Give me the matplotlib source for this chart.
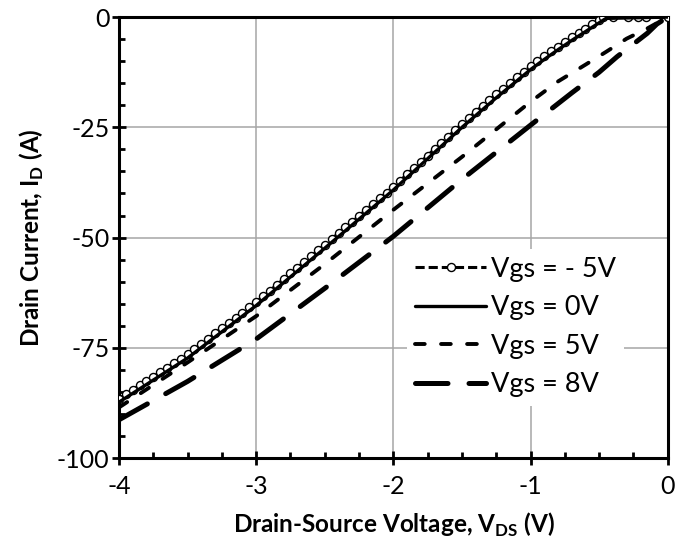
import matplotlib
matplotlib.use('Agg')
import matplotlib.pyplot as plt
from matplotlib.ticker import MultipleLocator

plt.rcParams['font.family'] = ['Lato', 'DejaVu Sans']
plt.rcParams['mathtext.fontset'] = 'custom'
plt.rcParams['mathtext.rm'] = 'Lato'
plt.rcParams['mathtext.bf'] = 'Lato:bold'
plt.rcParams['axes.unicode_minus'] = False

# Vgs = -5V (dense measured points, open circles)
vds_m5 = [-4.00, -3.95, -3.90, -3.85, -3.80, -3.75, -3.70, -3.65, -3.60, -3.55,
          -3.50, -3.45, -3.40, -3.35, -3.30, -3.25, -3.20, -3.15, -3.10, -3.05,
          -3.00, -2.95, -2.90, -2.85, -2.80, -2.75, -2.70, -2.65, -2.60, -2.55,
          -2.50, -2.45, -2.40, -2.35, -2.30, -2.25, -2.20, -2.15, -2.10, -2.05,
          -2.00, -1.95, -1.90, -1.85, -1.80, -1.75, -1.70, -1.65, -1.60, -1.55,
          -1.50, -1.45, -1.40, -1.35, -1.30, -1.25, -1.20, -1.15, -1.10, -1.05,
          -1.00, -0.95, -0.90, -0.85, -0.80, -0.75, -0.70, -0.65, -0.60, -0.55,
          -0.50, -0.475, -0.40, -0.29, -0.22, -0.155, 0.0]
id_m5 = [-86.5, -85.5, -84.5, -83.5, -82.5, -81.5, -80.5, -79.5, -78.5, -77.5,
         -76.5, -75.3, -74.1, -72.9, -71.7, -70.5, -69.4, -68.2, -67.0, -65.8,
         -64.6, -63.3, -62.0, -60.7, -59.4, -58.1, -56.8, -55.5, -54.2, -52.9,
         -51.6, -50.3, -49.0, -47.7, -46.4, -45.1, -43.7, -42.4, -41.1, -39.8,
         -38.5, -37.1, -35.6, -34.2, -32.8, -31.4, -29.9, -28.5, -27.1, -25.6,
         -24.2, -22.8, -21.5, -20.1, -18.8, -17.5, -16.2, -14.9, -13.6, -12.4,
         -11.2, -10.0, -8.9, -7.8, -6.7, -5.6, -4.6, -3.6, -2.6, -1.6,
         -0.7, 0.0, 0.0, 0.0, 0.0, 0.0, 0.0]

# Vgs = 0V
vds_0 = [-4.0, -3.5, -3.0, -2.5, -2.0, -1.5, -1.25, -1.0, -0.9, -0.8, -0.7, -0.6,
         -0.5, -0.45, 0.0]
id_0 = [-87.3, -77.3, -65.4, -52.4, -39.2, -25.0, -18.3, -11.9, -9.6, -7.4, -5.3,
        -3.3, -1.3, -0.3, 0.0]

# Vgs = 5V
vds_5 = [-4.0, -3.5, -3.0, -2.5, -2.0, -1.5, -1.0, -0.8, -0.6, -0.45, -0.3, -0.15, 0.0]
id_5 = [-88.5, -78.3, -67.8, -56.0, -43.7, -31.7, -19.2, -14.6, -10.8, -7.9, -4.9, -2.6, 0.0]

# Vgs = 8V
vds_8 = [-4.0, -3.5, -3.0, -2.5, -2.0, -1.5, -1.0, -0.7, -0.5, -0.37, -0.15, -0.08, 0.0]
id_8 = [-91.3, -82.6, -73.0, -61.5, -49.7, -36.8, -24.5, -17.2, -12.5, -9.0, -3.7, -1.6, 0.0]

fig = plt.figure(figsize=(6.8, 5.5), dpi=100)
ax = fig.add_axes([0.175, 0.167, 0.807, 0.802])

ax.plot(vds_m5, id_m5, color='black', lw=2.2, linestyle=(0, (3, 1.3)),
        marker='o', markersize=5.8, markerfacecolor='white', markeredgecolor='black',
        markeredgewidth=1.0, label='Vgs = - 5V', zorder=3)
ax.plot(vds_0, id_0, color='black', lw=2.4, solid_capstyle='round',
        label='Vgs = 0V', zorder=4)
ax.plot(vds_5, id_5, color='black', lw=2.8, linestyle=(0, (2.5, 4.2)),
        dash_capstyle='round', label='Vgs = 5V', zorder=4)
ax.plot(vds_8, id_8, color='black', lw=3.6, linestyle=(0, (6.5, 4.2)),
        dash_capstyle='round', label='Vgs = 8V', zorder=4)

ax.set_xlim(-4, 0)
ax.set_ylim(-100, 0)
ax.xaxis.set_major_locator(MultipleLocator(1))
ax.xaxis.set_minor_locator(MultipleLocator(0.25))
ax.yaxis.set_major_locator(MultipleLocator(25))
ax.yaxis.set_minor_locator(MultipleLocator(5))
ax.grid(True, which='major', color='#a6a6a6', lw=1.1)
ax.set_axisbelow(True)

for s in ax.spines.values():
    s.set_linewidth(2.2)
ax.tick_params(which='major', direction='inout', length=10, width=2,
               labelsize=18)
ax.tick_params(axis='x', which='major', pad=7)
ax.tick_params(axis='y', which='major', pad=2)
ax.tick_params(which='minor', direction='in', length=4, width=2)

ax.set_xlabel(r'Drain-Source Voltage, V$_{\mathbf{DS}}$ (V)', fontsize=17.5,
              fontweight='bold', labelpad=9)
ax.set_ylabel(r'Drain Current, I$_{\mathbf{D}}$ (A)', fontsize=17.5,
              fontweight='bold', labelpad=8)

leg = ax.legend(loc='upper left', bbox_to_anchor=(0.524, 0.475), fontsize=19.5,
                frameon=True, framealpha=1, edgecolor='none', fancybox=False,
                handlelength=2.65, handletextpad=0.15, labelspacing=0.5,
                borderpad=0.3, borderaxespad=0)

fig.savefig('out.png', dpi=100)
